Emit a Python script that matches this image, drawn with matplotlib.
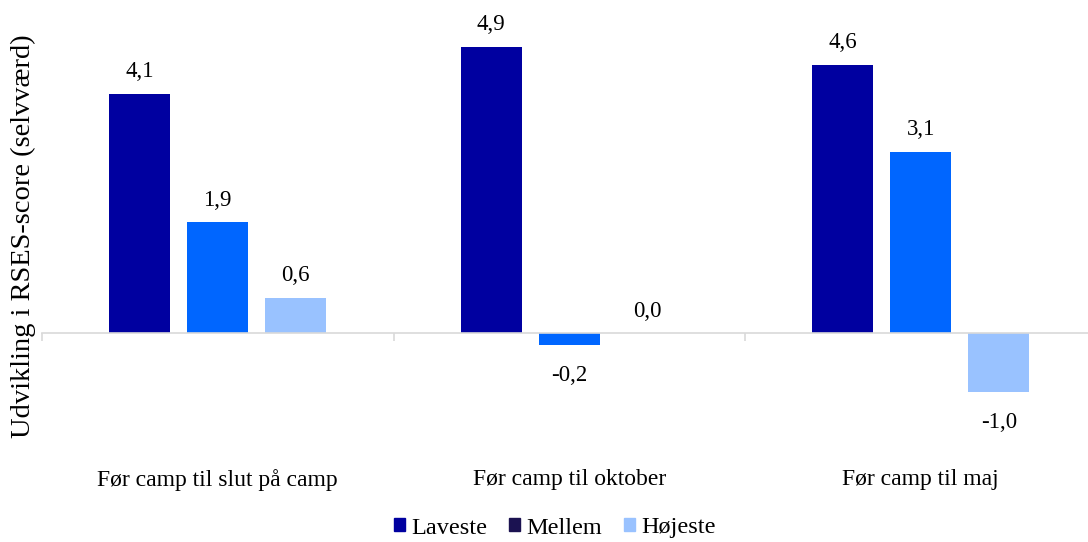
import matplotlib.pyplot as plt
import numpy as np
from matplotlib.patches import Patch
from matplotlib.transforms import blended_transform_factory

plt.rcParams['font.family'] = ['Liberation Serif', 'DejaVu Serif']

categories = ['Før camp til slut på camp', 'Før camp til oktober', 'Før camp til maj']
series = ['Laveste', 'Mellem', 'Højeste']
laveste = [4.1, 4.9, 4.6]
mellem = [1.9, -0.2, 3.1]
hojeste = [0.6, 0.0, -1.0]

bar_colors = ['#0000a0', '#0066ff', '#99c2ff']
legend_colors = ['#0000a0', '#1b1251', '#99c2ff']

fig = plt.figure(figsize=(10.88, 5.42), dpi=100)
# axes runs a bit past the right edge, like the original
ax = fig.add_axes([42 / 1088, (542 - 450) / 542, 3 * 351.5 / 1088, (450 - 12) / 542])

x = np.arange(len(categories))
width = 0.174
step = 0.222
for i, (vals, col) in enumerate(zip([laveste, mellem, hojeste], bar_colors)):
    pos = x + (i - 1) * step
    ax.bar(pos, vals, width, color=col, zorder=2)
    for p, v in zip(pos, vals):
        lbl = f'{v:.1f}'.replace('.', ',')
        if v < 0:
            ax.annotate(lbl, (p, v), xytext=(0, -26), textcoords='offset points',
                        ha='center', va='baseline', fontsize=16.5)
        else:
            ax.annotate(lbl, (p, v), xytext=(0, 12), textcoords='offset points',
                        ha='center', va='baseline', fontsize=16.5)

ax.set_xlim(-0.5, 2.5)
ax.set_ylim(-2, 5.5)
for s in ['top', 'right', 'left']:
    ax.spines[s].set_visible(False)
ax.spines['bottom'].set_position(('data', 0))
ax.spines['bottom'].set_color('#d9d9d9')
ax.spines['bottom'].set_linewidth(1.2)
ax.spines['bottom'].set_zorder(3)
ax.set_xticks([-0.5, 0.5, 1.5, 2.5])
ax.set_xticklabels([])
ax.tick_params(axis='x', direction='out', length=6, color='#d9d9d9', width=1.2)
ax.set_yticks([])

trans = blended_transform_factory(ax.transData, ax.transAxes)
for xi, cat in zip(x, categories):
    ax.text(xi, -0.068, cat, transform=trans, ha='center', va='center', fontsize=17)

fig.text(23 / 1088, 1 - 236 / 542, 'Udvikling i RSES-score (selvværd)', rotation=90,
         ha='center', va='center', fontsize=20.5)

handles = [Patch(color=c, label=s) for c, s in zip(legend_colors, series)]
fig.legend(handles=handles, loc='center', bbox_to_anchor=(555 / 1088, 1 - 528 / 542),
           ncol=3, frameon=False, fontsize=17.5, handlelength=0.45, handleheight=0.45,
           handletextpad=0.25, columnspacing=0.9)

plt.savefig('out.png', dpi=100)
